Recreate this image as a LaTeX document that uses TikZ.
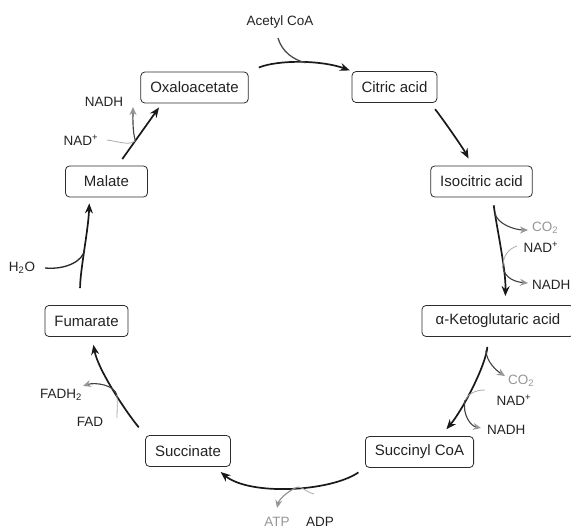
\documentclass[tikz,border=0pt]{standalone}
\usepackage{fontspec}
\setmainfont{Liberation Sans}
\usetikzlibrary{arrows.meta}
\definecolor{BoxLine}{RGB}{45,45,45}
\definecolor{BoxText}{RGB}{35,35,35}
\definecolor{SideGray}{RGB}{150,150,150}
\definecolor{LightGray}{RGB}{170,170,170}

\begin{document}
\begin{tikzpicture}[x=1pt,y=-1pt,>={Stealth[length=10pt,width=8pt]},
  stage/.style={draw=BoxLine,line width=0.8pt,rounded corners=4pt,fill=white,
    text=BoxText,minimum width=82pt,minimum height=31pt,inner xsep=9.5pt,
    font=\fontsize{15}{18}\selectfont},
  lab/.style={inner sep=1pt,text=BoxText,font=\fontsize{13.5}{16}\selectfont},
  main/.style={->,line width=1.7pt,black!90},
  sidein/.style={line width=0.8pt,LightGray},
  sideout/.style={-{Stealth[length=8pt,width=7pt,color=SideGray]},line width=1.1pt,black!75}]
  \useasboundingbox (0,0) rectangle (571,529);

  % stages of the cycle
  \node[stage] (oxalo) at (194.5,87.5) {Oxaloacetate};
  \node[stage] (citric) at (394.5,87) {Citric acid};
  \node[stage] (isocitric) at (481.5,181.5) {Isocitric acid};
  \node[stage,minimum width=152pt] (ketoglut) at (498,321) {α-Ketoglutaric acid};
  \node[stage] (succoa) at (419.5,452) {Succinyl CoA};
  \node[stage] (succinate) at (188,451) {Succinate};
  \node[stage] (fumarate) at (86.5,321) {Fumarate};
  \node[stage] (malate) at (106.5,181.5) {Malate};

  % main arrows
  \draw[main,shorten <=11pt,shorten >=2pt] (oxalo.north east)
       .. controls +(30,-12) and +(-30,-11) .. coordinate[pos=0.55] (jA) (citric.north west);
  \draw[main,shorten <=8pt,shorten >=8pt] (citric.-24)
       .. controls +(14,18) and +(-9,-17) .. (isocitric.120);
  \draw[main,shorten <=8pt,shorten >=9pt] (isocitric.-55)
       .. controls +(4,30) and +(1,-35) .. coordinate[pos=0.16] (jB) coordinate[pos=0.65] (jC) (ketoglut.66);
  \draw[main,shorten <=10pt,shorten >=9pt] (ketoglut.-122)
       .. controls +(-2,28) and +(22,-26) .. coordinate[pos=0.15] (jD) coordinate[pos=0.62] (jE) (succoa.37);
  \draw[main,shorten <=8pt,shorten >=8pt] (succoa.south west)
       .. controls +(-35,24) and +(35,29) .. coordinate[pos=0.45] (jF) (succinate.-31);
  \draw[main,shorten <=10pt,shorten >=8pt] (succinate.north west)
       .. controls +(-19,-23) and +(6,33) .. coordinate[pos=0.45] (jG) (fumarate.-71);
  \draw[main,shorten <=17pt,shorten >=6pt] (fumarate.112)
       .. controls +(0,-35) and +(-1,32) .. coordinate[pos=0.5] (jH) (malate.-137);
  \draw[main,shorten <=8pt,shorten >=5pt] (malate.55) -- coordinate[pos=0.4] (jI) (oxalo.-154);

  % side labels
  \node[lab] (acetyl) at (280,22) {Acetyl CoA};
  \node[lab,anchor=west,text=SideGray] (co2a) at (531,228) {CO\textsubscript{2}};
  \node[lab] (nada) at (541,247) {NAD\textsuperscript{+}};
  \node[lab,anchor=west] (nadha) at (531,285) {NADH};
  \node[lab,anchor=west,text=SideGray] (co2b) at (507,381) {CO\textsubscript{2}};
  \node[lab] (nadb) at (514,400) {NAD\textsuperscript{+}};
  \node[lab,anchor=west] (nadhb) at (486,430) {NADH};
  \node[lab,text=SideGray] (atp) at (277,522) {ATP};
  \node[lab] (adp) at (320,522) {ADP};
  \node[lab] (fad) at (90,422) {FAD};
  \node[lab,anchor=east] (fadh) at (83,395) {FADH\textsubscript{2}};
  \node[lab] (water) at (22,268) {H\textsubscript{2}O};
  \node[lab] (nadc) at (81,140) {NAD\textsuperscript{+}};
  \node[lab] (nadhc) at (104,102) {NADH};

  % free ends of the side reactions
  \coordinate (acetylin) at (278,38);
  \coordinate (nadain) at (517,246);
  \coordinate (nadbin) at (485,390);
  \coordinate (adpin) at (314,494);
  \coordinate (fadin) at (117,418);
  \coordinate (waterin) at (45,268);
  \coordinate (nadcin) at (107,140);
  \coordinate (co2aend) at (528,230);
  \coordinate (nadhaend) at (528,283);
  \coordinate (co2bend) at (505,376);
  \coordinate (nadhbend) at (481,428);
  \coordinate (atpend) at (277,508);
  \coordinate (fadhend) at (83,386);
  \coordinate (nadhcend) at (133,107);

  % side reactions
  \draw[sidein,line width=1.3pt,black!70] (acetylin) .. controls +(4,14) and +(-12,-3) .. (jA);
  \draw[sideout] (jB) .. controls +(2,12) and +(-12,0) .. (co2aend);
  \draw[sidein] (nadain) .. controls +(-9,3) and +(0,-10) .. (jC);
  \draw[sideout] (jC) .. controls +(1,12) and +(-12,-1) .. (nadhaend);
  \draw[sideout] (jD) .. controls +(1,12) and +(-8,-5) .. (co2bend);
  \draw[sidein] (nadbin) .. controls +(-10,0) and +(3,-6) .. (jE);
  \draw[sideout] (jE) .. controls +(-3,15) and +(-10,-2) .. (nadhbend);
  \draw[sidein] (adpin) .. controls +(-8,-2) and +(6,1) .. (jF);
  \draw[sideout,black!45] (jF) .. controls +(-8,2) and +(2,-9) .. (atpend);
  \draw[sidein] (fadin) .. controls +(0,-8) and +(1,8) .. (jG);
  \draw[sideout] (jG) .. controls +(-2,-10) and +(12,-4) .. (fadhend);
  \draw[sidein,line width=1.3pt,black!85] (waterin) .. controls +(22,2) and +(-1,10) .. (jH);
  \draw[sidein] (nadcin) .. controls +(14,2) and +(-6,5) .. (jI);
  \draw[sideout] (jI) .. controls +(-3,-10) and +(0,10) .. (nadhcend);
\end{tikzpicture}
\end{document}
